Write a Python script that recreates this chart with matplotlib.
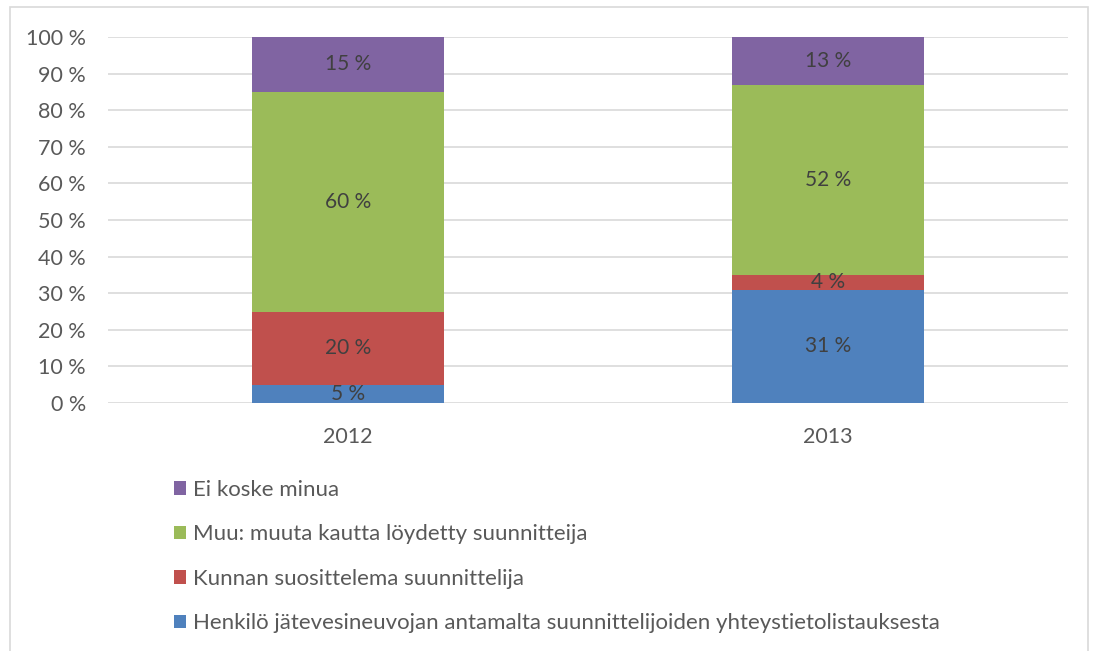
import matplotlib.pyplot as plt
from matplotlib.patches import Rectangle
import numpy as np

plt.rcParams['font.family'] = ['Lato', 'DejaVu Sans']

years = ['2012', '2013']
series_names = [
    'Henkilö jätevesineuvojan antamalta suunnittelijoiden yhteystietolistauksesta',
    'Kunnan suosittelema suunnittelija',
    'Muu: muuta kautta löydetty suunnitteija',
    'Ei koske minua',
]
henkilo = [5, 31]
kunnan = [20, 4]
muu = [60, 52]
ei_koske = [15, 13]
colors = ['#4F81BD', '#C0504D', '#9BBB59', '#8064A2']

fig = plt.figure(figsize=(10.95, 6.51), dpi=100)
# axes placement in pixels: left 108, right 1068, top 37, bottom 403
ax = fig.add_axes([108 / 1095, 1 - 403 / 651, 960 / 1095, 366 / 651])

x = np.arange(len(years))
bottom = np.zeros(len(years))
handles = []
for name, vals, col in zip(series_names, [henkilo, kunnan, muu, ei_koske], colors):
    vals = np.array(vals, dtype=float)
    bars = ax.bar(x, vals, 0.4, bottom=bottom, color=col, label=name, zorder=3)
    handles.append(bars)
    for xi, b, v in zip(x, bottom, vals):
        ax.text(xi, b + v / 2, f'{int(v)} %', ha='center', va='center',
                fontsize=15, color='#404040', zorder=4)
    bottom += vals

ax.set_xlim(-0.5, 1.5)
ax.set_ylim(0, 100)
ax.set_yticks(np.arange(0, 101, 10))
ax.set_yticklabels([f'{t} %' for t in range(0, 101, 10)])
ax.set_xticks(x)
ax.set_xticklabels(years)
ax.tick_params(axis='both', length=0, labelsize=15.5, colors='#595959')
ax.tick_params(axis='y', pad=16)
ax.tick_params(axis='x', pad=17)
ax.grid(axis='y', color='#D9D9D9', linewidth=1.2, zorder=0)
for s in ax.spines.values():
    s.set_visible(False)

leg = fig.legend(handles[::-1], series_names[::-1], loc='upper left',
                 bbox_to_anchor=(165 / 1095, 1 - 471 / 651), frameon=False,
                 fontsize=16, labelspacing=1.1, handlelength=0.55,
                 handleheight=0.55, handletextpad=0.3, borderaxespad=0)
for t in leg.get_texts():
    t.set_color('#595959')

# outer chart border
fig.patches.append(Rectangle((10 / 1095, -0.01), 1078 / 1095, 1 - 7 / 651 + 0.01,
                             transform=fig.transFigure, fill=False,
                             edgecolor='#D9D9D9', linewidth=1.2))

fig.savefig('out.png', dpi=100)
